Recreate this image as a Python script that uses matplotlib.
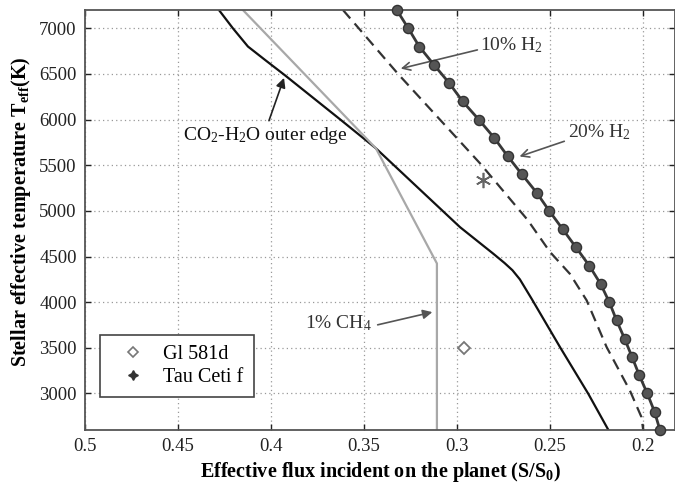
import numpy as np
import matplotlib
matplotlib.use("Agg")
import matplotlib.pyplot as plt
from matplotlib.lines import Line2D

# Fuentes tipo Times (como MATLAB)
plt.rcParams['font.family'] = 'serif'
plt.rcParams['font.serif'] = ['Liberation Serif', 'DejaVu Serif']
plt.rcParams['mathtext.fontset'] = 'custom'
plt.rcParams['mathtext.rm'] = 'Liberation Serif'
plt.rcParams['mathtext.it'] = 'Liberation Serif:italic'
plt.rcParams['mathtext.bf'] = 'Liberation Serif:bold'

# CO2-H2O outer edge (black solid)
co2_T = [7200, 7000, 6800, 6650, 6485, 6003, 5685, 4822, 4531, 4430, 4350, 4250, 4038,
         3507, 2996, 2600]
co2_S = [0.428, 0.4205, 0.4124, 0.4030, 0.3925, 0.3629, 0.3436, 0.2984, 0.2805, 0.2745,
         0.2702, 0.2662, 0.2599, 0.2446, 0.2294, 0.2186]

# 1% CH4 (light gray)
ch4_T = [7200, 5685, 4424, 2600]
ch4_S = [0.4151, 0.3436, 0.3108, 0.3108]

# 10% H2 (dashed)
h10_T = [7200, 6500, 5520, 4900, 4550, 4310, 4020, 3510, 3030, 2740, 2600]
h10_S = [0.3613, 0.3317, 0.2876, 0.2620, 0.2500, 0.2393, 0.2303, 0.2196, 0.2070, 0.2008, 0.1999]

# 20% H2 (line with dots, every 200 K)
h20_T = [7200, 7000, 6800, 6600, 6400, 6200, 6000, 5800, 5600, 5400, 5200, 5000,
         4800, 4600, 4400, 4200, 4000, 3800, 3600, 3400, 3200, 3000, 2800, 2600]
h20_S = [0.3324, 0.3262, 0.3203, 0.3124, 0.3042, 0.2970, 0.2883, 0.2800, 0.2728, 0.2651,
         0.2572, 0.2504, 0.2432, 0.2360, 0.2289, 0.2228, 0.2181, 0.2142, 0.2099, 0.2059,
         0.2020, 0.1977, 0.1938, 0.1909]

# Planetas
gl581d = (0.296, 3500)
tauceti = (0.286, 5340)

xticks = [0.5, 0.45, 0.4, 0.35, 0.3, 0.25, 0.2]
xticklabels = ['0.5', '0.45', '0.4', '0.35', '0.3', '0.25', '0.2']
yticks = [3000, 3500, 4000, 4500, 5000, 5500, 6000, 6500, 7000]

fig = plt.figure(figsize=(6.75, 4.83), dpi=100)
ax = fig.add_axes([85 / 675, 1 - 430 / 483, 590 / 675, 420 / 483])

ax.plot(co2_S, co2_T, color='#111111', lw=1.6)
ax.plot(ch4_S, ch4_T, color='#a8a8a8', lw=1.6)
ax.plot(h10_S, h10_T, color='#333333', lw=1.6, dashes=(5, 3))
ax.plot(h20_S, h20_T, color='#383838', lw=2, marker='o', markersize=7.3,
        markerfacecolor='#555555', markeredgecolor='#333333', clip_on=False, zorder=4)

ax.plot(*gl581d, linestyle='none', marker='D', markersize=6, markerfacecolor='white',
        markeredgecolor='#777777', markeredgewidth=1.3)
ax.plot(*tauceti, linestyle='none', marker=(6, 2, 0), markersize=11,
        markeredgecolor='#666666', markeredgewidth=1.2)

# Etiquetas con flechas
ax.text(0.4473, 5772, 'CO$_2$-H$_2$O outer edge', fontsize=14, color='#111111',
        ha='left', va='baseline')
ax.annotate('', xy=(0.3925, 6485), xytext=(0.4016, 5959),
            arrowprops=dict(arrowstyle='-|>', color='#222222', lw=1.2, mutation_scale=14))

ax.text(0.2876, 6759, '10% H$_2$', fontsize=14, color='#333333', ha='left', va='baseline')
ax.annotate('', xy=(0.3317, 6551), xytext=(0.2876, 6770),
            arrowprops=dict(arrowstyle='->', color='#555555', lw=1.2, mutation_scale=14))

ax.text(0.2402, 5809, '20% H$_2$', fontsize=14, color='#333333', ha='left', va='baseline')
ax.annotate('', xy=(0.2678, 5586), xytext=(0.2409, 5772),
            arrowprops=dict(arrowstyle='->', color='#555555', lw=1.2, mutation_scale=14))

ax.text(0.3817, 3709, '1% CH$_4$', fontsize=14, color='#333333', ha='left', va='baseline')
ax.annotate('', xy=(0.3118, 3898), xytext=(0.3441, 3745),
            arrowprops=dict(arrowstyle='-|>', color='#555555', lw=1.2, mutation_scale=14))

# Ejes
ax.set_xlim(0.5, 0.5 - 590 * 0.05 / 93)
ax.set_ylim(2600, 7200)
ax.set_xticks(xticks)
ax.set_xticklabels(xticklabels)
ax.set_yticks(yticks)
ax.tick_params(direction='in', length=4, width=1, top=True, right=True,
               labelsize=13.5, colors='#222222', pad=6)
ax.grid(True, color='#999999', linestyle=(0, (1, 2.5)), linewidth=0.9)
for s in ax.spines.values():
    s.set_color('#555555')
    s.set_linewidth(1.3)

ax.set_xlabel('Effective flux incident on the planet (S/S$_\\mathbf{0}$)',
              fontsize=14.5, fontweight='bold', labelpad=3)
ax.set_ylabel('Stellar effective temperature T$_\\mathbf{eff}$(K)',
              fontsize=14.5, fontweight='bold')
ax.yaxis.set_label_coords(-0.088, 0.52)

handles = [Line2D([], [], linestyle='none', marker='D', markersize=5, markerfacecolor='white',
                  markeredgecolor='#777777', markeredgewidth=1.2),
           Line2D([], [], linestyle='none', marker=(4, 1, 0), markersize=7,
                  color='#333333', markeredgecolor='#333333')]
leg = ax.legend(handles, ['Gl 581d', 'Tau Ceti f'], loc='lower left',
                bbox_to_anchor=(0.0254, 0.0786), borderaxespad=0, fontsize=14.5,
                fancybox=False, edgecolor='#444444', framealpha=1,
                handlelength=2.3, handletextpad=0.35, borderpad=0.5, labelspacing=0.2)
leg.get_frame().set_linewidth(1.2)

fig.savefig('out.png', dpi=100, facecolor='white')
